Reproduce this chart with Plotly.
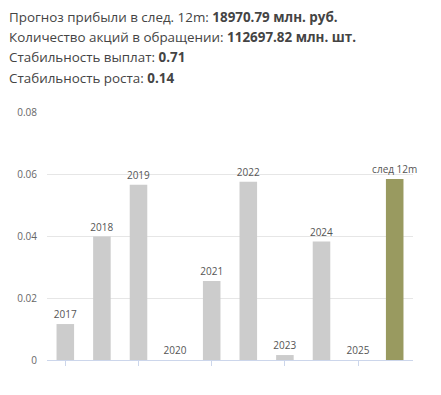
import plotly.graph_objects as go

categories = ["2017", "2018", "2019", "2020", "2021", "2022", "2023", "2024", "2025", "след 12m"]
values = [0.0116, 0.0398, 0.0565, 0.0, 0.0255, 0.0575, 0.0016, 0.0382, 0.0, 0.0584]
colors = ["#cccccc"] * 9 + ["#999a60"]
tick_cats = ["2017", "2019", "2021", "2023", "2025"]
header_lines = [
    ("Прогноз прибыли в след. 12m: ", "18970.79 млн. руб."),
    ("Количество акций в обращении: ", "112697.82 млн. шт."),
    ("Стабильность выплат: ", "0.71"),
    ("Стабильность роста: ", "0.14"),
]

# page body has an 8px margin; figure coordinates are offset accordingly
OFF = 8
W, HGT = 441 - OFF, 395 - OFF
PLOT_TOP, PLOT_BOTTOM, PLOT_LEFT, PLOT_RIGHT = 112 - OFF, 360 - OFF, 47 - OFF, 413 - OFF
H = PLOT_BOTTOM - PLOT_TOP

fig = go.Figure()
fig.add_trace(go.Bar(
    x=categories, y=values, marker=dict(color=colors, line=dict(width=0)),
    text=categories, textposition="outside", texttemplate="%{text}",
    textfont=dict(family="Open Sans", size=10, color="#555555"),
    constraintext="none",
    cliponaxis=False, hoverinfo="skip", width=0.48,
))

annotations = []
centers = [17, 37, 57, 78]
for (lab, val), cy in zip(header_lines, centers):
    annotations.append(dict(
        xref="paper", yref="paper", x=-(PLOT_LEFT - (8 - OFF)) / (PLOT_RIGHT - PLOT_LEFT),
        y=1 + (PLOT_TOP - (cy - OFF)) / H, xanchor="left", yanchor="middle",
        showarrow=False, borderpad=0,
        text=f"{lab}<b>{val}</b>",
        font=dict(family="Open Sans", size=13.4, color="#444444"),
    ))

fig.update_layout(
    width=W, height=HGT,
    margin=dict(l=PLOT_LEFT, r=W - PLOT_RIGHT, t=PLOT_TOP, b=HGT - PLOT_BOTTOM, autoexpand=False),
    paper_bgcolor="white", plot_bgcolor="white",
    showlegend=False, annotations=annotations,
    xaxis=dict(
        type="category", showgrid=False, showline=True, linecolor="#ccd6eb",
        linewidth=1, ticks="outside", tickvals=tick_cats, ticklen=5,
        tickcolor="#ccd6eb", showticklabels=False, fixedrange=True, automargin=False,
    ),
    yaxis=dict(
        range=[0, 0.08], dtick=0.02, showgrid=True, gridcolor="#e6e6e6",
        zeroline=False, tickfont=dict(family="Open Sans", size=10, color="#666666"),
        ticks="outside", ticklen=7, tickcolor="rgba(0,0,0,0)", fixedrange=True, automargin=False,
    ),
)

fig.write_html("out.html")
